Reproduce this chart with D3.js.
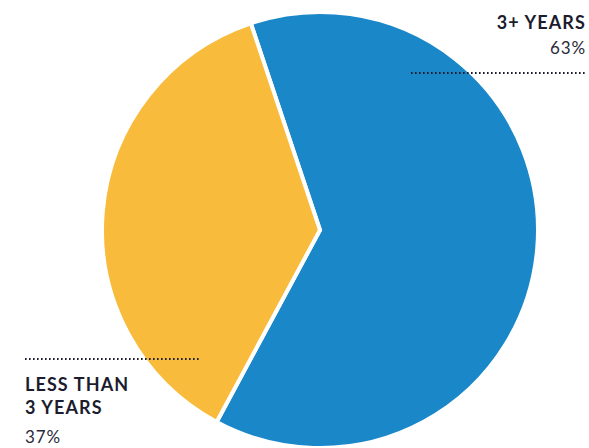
<!DOCTYPE html>
<html>
<head>
<meta charset="utf-8">
<script src="https://cdn.jsdelivr.net/npm/d3@7"></script>
<style>
  body { margin: 0; background: #fff; }
  svg { display: block; }
  .lbl { font-family: Lato, "Open Sans", sans-serif; fill: #1b1c2e; font-size: 17px; }
  .lbl.name { font-weight: 700; font-size: 18px; letter-spacing: 1.1px; }
  .lbl.pct { font-weight: 400; letter-spacing: 0.9px; fill: #2a2b3a; }
</style>
</head>
<body>
<div id="chart"></div>
<script>
var categories = ["3+ YEARS", "LESS THAN 3 YEARS"]
var values = [63, 37]
var colors = ["#1a87c8", "#f8bb3c"]

var width = 589, height = 448
var cx = 320, cy = 230, radius = 218

var svg = d3.select("#chart")
  .append("svg")
  .attr("width", width)
  .attr("height", height)

var g = svg.append("g")
  .attr("transform", "translate(" + cx + "," + cy + ")")

var start = -18.5 * Math.PI / 180

var pie = d3.pie()
  .sort(null)
  .startAngle(start)
  .endAngle(start + 2 * Math.PI)

var arc = d3.arc()
  .innerRadius(0)
  .outerRadius(radius)

g.selectAll("path")
  .data(pie(values))
  .enter().append("path")
  .attr("d", arc)
  .attr("fill", (d, i) => colors[i])
  .attr("stroke", "#fff")
  .attr("stroke-width", 4)
  .attr("stroke-linejoin", "miter")

// dotted leader lines
var leaders = [
  {x1: 411, x2: 587, y: 73},
  {x1: 25, x2: 201, y: 359}
]
svg.selectAll("line.leader")
  .data(leaders)
  .enter().append("line")
  .attr("class", "leader")
  .attr("x1", d => d.x1)
  .attr("x2", d => d.x2)
  .attr("y1", d => d.y)
  .attr("y2", d => d.y)
  .attr("stroke", "#1b1c2e")
  .attr("stroke-width", 2)
  .attr("stroke-dasharray", "1.6 2.4")

// labels
svg.append("text").attr("class", "lbl name")
  .attr("x", 586).attr("y", 29).attr("text-anchor", "end")
  .text(categories[0])
svg.append("text").attr("class", "lbl pct")
  .attr("x", 586).attr("y", 54).attr("text-anchor", "end")
  .text(values[0] + "%")

var low = svg.append("text").attr("class", "lbl name")
  .attr("x", 25).attr("y", 391)
low.append("tspan").attr("x", 25).text("LESS THAN")
low.append("tspan").attr("x", 25).attr("dy", 23).text("3 YEARS")
svg.append("text").attr("class", "lbl pct")
  .attr("x", 25).attr("y", 443)
  .text(values[1] + "%")
</script>
</body>
</html>
